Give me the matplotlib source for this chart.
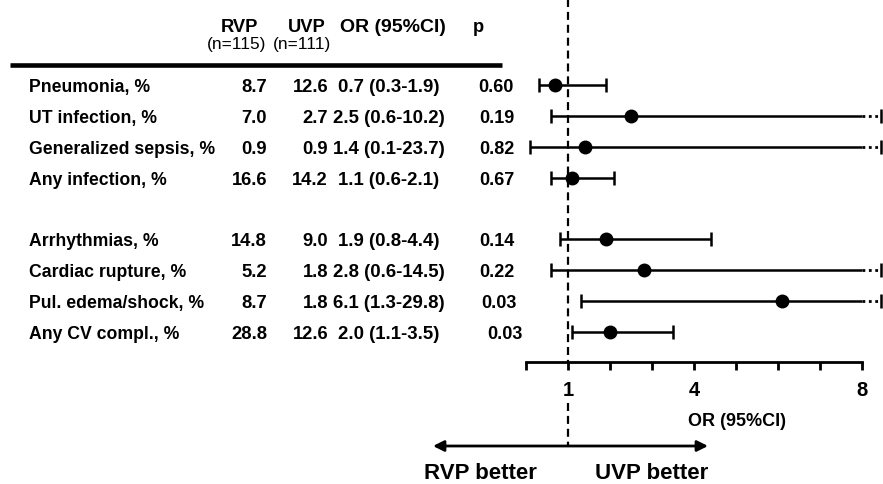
import matplotlib
matplotlib.use("Agg")
import matplotlib.pyplot as plt
import matplotlib.transforms as mtransforms
import numpy as np

plt.rcParams["font.family"] = ["Liberation Sans", "DejaVu Sans"]

# ── Data ─────────────────────────────────────────────────────────────
outcomes = ["Pneumonia, %", "UT infection, %", "Generalized sepsis, %",
            "Any infection, %", "Arrhythmias, %", "Cardiac rupture, %",
            "Pul. edema/shock, %", "Any CV compl., %"]
rvp_pct = [8.7, 7.0, 0.9, 16.6, 14.8, 5.2, 8.7, 28.8]
uvp_pct = [12.6, 2.7, 0.9, 14.2, 9.0, 1.8, 1.8, 12.6]
odds_ratio = [0.7, 2.5, 1.4, 1.1, 1.9, 2.8, 6.1, 2.0]
ci_low = [0.3, 0.6, 0.1, 0.6, 0.8, 0.6, 1.3, 1.1]
ci_high = [1.9, 10.2, 23.7, 2.1, 4.4, 14.5, 29.8, 3.5]
p_values = ["0.60", "0.19", "0.82", "0.67", "0.14", "0.22", "0.03", "0.03"]
x_ticks = [0, 1, 2, 3, 4, 5, 6, 7, 8]
x_ticklabels = ["", "1", "", "", "4", "", "", "", "8"]
AXIS_MAX = 8

# ── Layout (pixels) ──────────────────────────────────────────────────
W, H = 883, 485
ROW0, STEP = 86, 30.84
AX_LEFT, AX_BOTTOM = 526, 363
PX_PER_UNIT = 42.0

rows = np.arange(len(outcomes)) + (np.arange(len(outcomes)) >= 4)
row_px = ROW0 + rows * STEP

fig = plt.figure(figsize=(W / 100, H / 100), dpi=100)
fig.patch.set_facecolor("white")

bg = fig.add_axes([0, 0, 1, 1])
bg.set_xlim(0, W)
bg.set_ylim(H, 0)
bg.axis("off")

fax = fig.add_axes([AX_LEFT / W, 1 - AX_BOTTOM / H, (W - AX_LEFT) / W, AX_BOTTOM / H])
fax.set_xlim(0, (W - AX_LEFT) / PX_PER_UNIT)
fax.set_ylim((AX_BOTTOM - ROW0) / STEP, -ROW0 / STEP)
fax.patch.set_visible(False)

# ── Table header ─────────────────────────────────────────────────────
hdr = dict(fontsize=13.2, fontweight="bold", ha="center", va="baseline")
bg.text(239, 32, "RVP", **hdr)
bg.text(307, 32, "UVP", **hdr)
bg.text(393, 32, "OR (95%CI)", **{**hdr, "fontsize": 14})
bg.text(478, 32, "p", **hdr)
bg.text(237, 49, "(n=115)", fontsize=12.4, ha="center", va="baseline")
bg.text(302, 49, "(n=111)", fontsize=12.4, ha="center", va="baseline")
bg.plot([10, 502], [66, 66], color="black", lw=3.3, solid_capstyle="butt")

# ── Table body ───────────────────────────────────────────────────────
p_nudge = [0, 0, 0, 0, 0, 0, 3, 9]
body = dict(fontweight="bold", va="baseline")
for i, y in enumerate(row_px):
    yb = y + 6
    bg.text(29, yb, outcomes[i], ha="left", fontsize=12.7, **body)
    bg.text(267, yb, f"{rvp_pct[i]:.1f}", ha="right", fontsize=13.2, **body)
    bg.text(328, yb, f"{uvp_pct[i]:.1f}", ha="right", fontsize=13.2, **body)
    bg.text(389, yb, f"{odds_ratio[i]:.1f} ({ci_low[i]:.1f}-{ci_high[i]:.1f})",
            ha="center", fontsize=13.4, **body)
    bg.text(514 + p_nudge[i], yb, p_values[i], ha="right", fontsize=13.0, **body)

# ── Forest plot ──────────────────────────────────────────────────────
LW = 1.8
for i, r in enumerate(rows):
    lo, hi = ci_low[i], ci_high[i]
    hi_draw = min(hi, AXIS_MAX)
    fax.plot([lo, hi_draw], [r, r], color="black", lw=LW, solid_capstyle="butt")
    fax.plot([lo], [r], marker="|", ms=10, mew=LW, color="black")
    if hi > AXIS_MAX:
        fax.plot([AXIS_MAX, AXIS_MAX + 0.42], [r, r], color="black", lw=2.0,
                 ls=(0, (1, 1.3)))
        fax.plot([AXIS_MAX + 0.45], [r], marker="|", ms=10, mew=LW,
                 color="black", clip_on=False)
    else:
        fax.plot([hi], [r], marker="|", ms=10, mew=LW, color="black")
    fax.plot([odds_ratio[i]], [r], marker="o", ms=9, color="black", zorder=5)

for side in ("top", "right", "left"):
    fax.spines[side].set_visible(False)
fax.spines["bottom"].set_bounds(0, AXIS_MAX)
fax.spines["bottom"].set_linewidth(2.0)
fax.set_yticks([])
fax.set_xticks(x_ticks)
fax.set_xticklabels(x_ticklabels)
fax.tick_params(axis="x", direction="out", length=6, width=2.0, labelsize=14.5, pad=7)
for t in fax.get_xticklabels():
    t.set_fontweight("bold")

# reference line at OR = 1 (x from the forest scale, y in pixels)
trans = mtransforms.blended_transform_factory(fax.transData, bg.transData)
bg.plot([1, 1], [0, AX_BOTTOM], transform=trans, color="black", lw=1.6,
        dashes=(3.6, 2.2))
bg.plot([1, 1], [404, 447], transform=trans, color="black", lw=1.6,
        dashes=(3.6, 2.2))

bg.text(737, 426, "OR (95%CI)", fontsize=13, fontweight="bold",
        ha="center", va="baseline")

# ── Direction arrows ─────────────────────────────────────────────────
bg.annotate("", xy=(433, 447), xytext=(708, 447),
            arrowprops=dict(arrowstyle="<|-|>", color="black", lw=2,
                            mutation_scale=16, shrinkA=0, shrinkB=0))
bg.text(480, 479, "RVP better", fontsize=16, fontweight="bold",
        ha="center", va="baseline")
bg.text(652, 479, "UVP better", fontsize=16, fontweight="bold",
        ha="center", va="baseline")

fig.savefig("out.png", dpi=100, facecolor="white")
